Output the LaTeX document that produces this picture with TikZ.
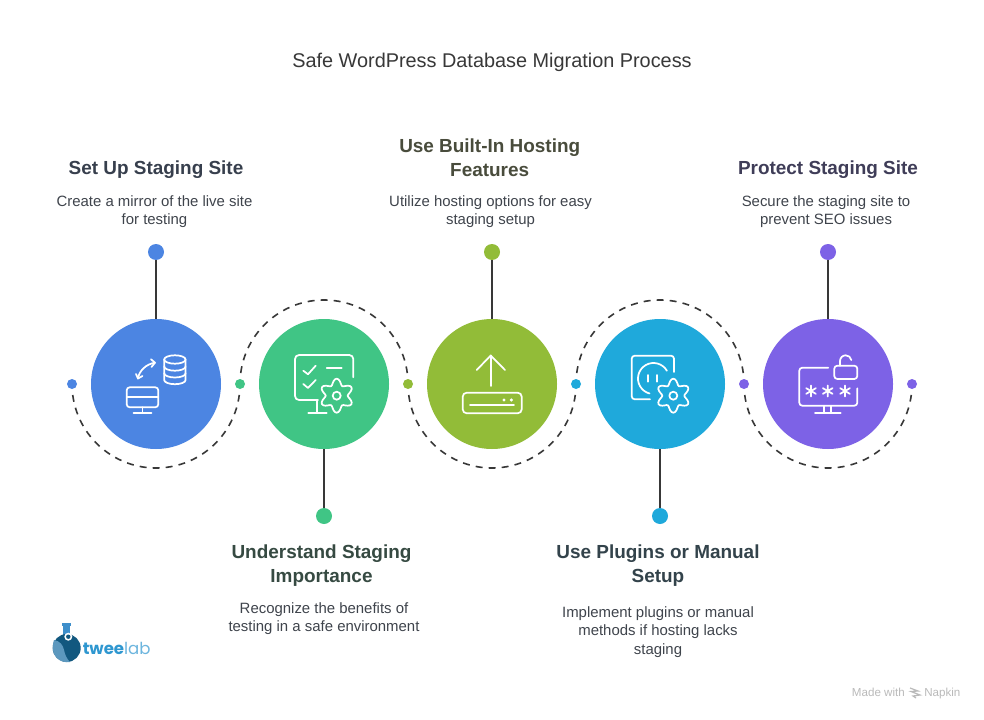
\documentclass[tikz,border=0pt]{standalone}
\usepackage{fontspec}
\setmainfont{Liberation Sans}
\newfontfamily\logofont{Poppins}
\definecolor{cblue}{HTML}{4C85E2}
\definecolor{cgreen}{HTML}{40C585}
\definecolor{colive}{HTML}{92BC38}
\definecolor{ccyan}{HTML}{1FA9DB}
\definecolor{cpurple}{HTML}{7D62E6}
\definecolor{hblue}{HTML}{373F4D}
\definecolor{hgreen}{HTML}{364A42}
\definecolor{holive}{HTML}{494C3C}
\definecolor{hcyan}{HTML}{33434B}
\definecolor{hpurple}{HTML}{3F3D58}
\definecolor{dtext}{HTML}{3F444C}
\definecolor{ldark}{HTML}{12587F}
\definecolor{lmid}{HTML}{5C98BE}
\definecolor{lneck}{HTML}{3E8FCB}
\definecolor{ltext}{HTML}{2F97D0}
\definecolor{llight}{HTML}{6CB5DE}
\tikzset{
  x=0.75pt,y=-0.75pt,
  bigdisc/.style={circle,fill=#1,draw=none,minimum size=97.5pt,inner sep=0pt},
  bigdot/.style={circle,fill=#1,draw=none,minimum size=12pt,inner sep=0pt},
  smalldot/.style={circle,fill=#1,draw=none,minimum size=7.5pt,inner sep=0pt},
  linkline/.style={draw=black!78,line width=1.5pt},
  dasharc/.style={draw=black!78,line width=1.2pt,dash pattern=on 5.2pt off 4.6pt},
  ico/.style={draw=white,line width=1.3pt,line cap=round,line join=round},
  titletext/.style={font=\fontsize{14.9pt}{18pt}\selectfont,text=black!78,align=center},
  headtext/.style={font=\bfseries\fontsize{14.2pt}{18pt}\selectfont,text=#1,align=center},
  desctext/.style={font=\fontsize{11.2pt}{13.6pt}\selectfont,text=dtext,align=center},
  marktext/.style={font=\fontsize{8.7pt}{10pt}\selectfont,text=black!27},
}
\newcommand{\gearico}[2]{%
  \draw[ico] plot[domain=0:354,samples=60,smooth cycle] ({#1+(14+3*cos(6*\x+180))*cos(\x)},{#2+(14+3*cos(6*\x+180))*sin(\x)});
  \draw[ico] (#1,#2) circle[radius=4];}
\begin{document}
\begin{tikzpicture}
\useasboundingbox (0,0) rectangle (984,720);
\fill[white] (0,0) rectangle (984,720);

\node[titletext] (title) at (492,62) {Safe WordPress Database Migration Process};

% big discs
\node[bigdisc=cblue] (c1) at (156,384) {};
\node[bigdisc=cgreen] (c2) at (324,384) {};
\node[bigdisc=colive] (c3) at (492,384) {};
\node[bigdisc=ccyan] (c4) at (660,384) {};
\node[bigdisc=cpurple] (c5) at (828,384) {};

% small dots on the axis
\node[smalldot=cblue] (d0) at (72,384) {};
\node[smalldot=cgreen] (d1) at (240,384) {};
\node[smalldot=colive] (d2) at (408,384) {};
\node[smalldot=ccyan] (d3) at (576,384) {};
\node[smalldot=cpurple] (d4) at (744,384) {};
\node[smalldot=cpurple] (d5) at (912,384) {};

% dashed arcs
\draw[dasharc] (c1) ++(172.5:84) arc[start angle=172.5,end angle=7.5,radius=84];
\draw[dasharc] (c2) ++(187.5:84) arc[start angle=187.5,end angle=352.5,radius=84];
\draw[dasharc] (c3) ++(172.5:84) arc[start angle=172.5,end angle=7.5,radius=84];
\draw[dasharc] (c4) ++(187.5:84) arc[start angle=187.5,end angle=352.5,radius=84];
\draw[dasharc] (c5) ++(172.5:84) arc[start angle=172.5,end angle=7.5,radius=84];

% end dots and stems
\node[bigdot=cblue] (t1) at (156,252) {};
\node[bigdot=cgreen] (t2) at (324,516) {};
\node[bigdot=colive] (t3) at (492,252) {};
\node[bigdot=ccyan] (t4) at (660,516) {};
\node[bigdot=cpurple] (t5) at (828,252) {};
\draw[linkline] (t1) -- (c1);
\draw[linkline] (t2) -- (c2);
\draw[linkline] (t3) -- (c3);
\draw[linkline] (t4) -- (c4);
\draw[linkline] (t5) -- (c5);

% texts
\node[headtext=hblue] (h1) at (156,170) {Set Up Staging Site};
\node[desctext] (p1) at (154.5,212) {Create a mirror of the live site\\for testing};
\node[headtext=hgreen] (h2) at (321.5,566) {Understand Staging\\Importance};
\node[desctext] (p2) at (324,619) {Recognize the benefits of\\testing in a safe environment};
\node[headtext=holive] (h3) at (489.7,158) {Use Built-In Hosting\\Features};
\node[desctext] (p3) at (490.5,212) {Utilize hosting options for easy\\staging setup};
\node[headtext=hcyan] (h4) at (658,566) {Use Plugins or Manual\\Setup};
\node[desctext] (p4) at (658,632) {Implement plugins or manual\\methods if hosting lacks\\staging};
\node[headtext=hpurple] (h5) at (828,170) {Protect Staging Site};
\node[desctext] (p5) at (826,212) {Secure the staging site to\\prevent SEO issues};

% icon 1: monitor, arrows, database
\draw[ico] (126.7,390.3) arc[start angle=180,end angle=270,radius=3] -- (155.3,387.3) arc[start angle=270,end angle=360,radius=3] -- (158.3,404.3) arc[start angle=0,end angle=90,radius=3] -- (129.7,407.3) arc[start angle=90,end angle=180,radius=3] -- cycle;
\draw[ico] (126.7,397.3) -- (158.3,397.3);
\draw[ico] (142.5,407.3) -- (142.5,412.7) (133.5,412.7) -- (151.5,412.7);
\draw[ico] (174.9,359.5) ellipse[x radius=10.7,y radius=4.2];
\draw[ico] (164.2,359.5) -- (164.2,380) arc[start angle=180,end angle=0,x radius=10.7,y radius=4.2] -- (185.6,359.5);
\draw[ico] (164.2,366.5) arc[start angle=180,end angle=0,x radius=10.7,y radius=4.2];
\draw[ico] (164.2,373.3) arc[start angle=180,end angle=0,x radius=10.7,y radius=4.2];
\draw[ico] (138,378.5) .. controls (139,371) and (146,364) .. (155,362.7);
\draw[ico] (136,374) -- (138,378.5) -- (142.5,376);
\draw[ico] (151,359.3) -- (155,362.7) -- (151.5,367);

% icon 2: monitor with checks and gear
\draw[ico] (318,400) -- (299,400) arc[start angle=90,end angle=180,radius=4] -- (295,359) arc[start angle=180,end angle=270,radius=4] -- (349.3,355) arc[start angle=270,end angle=360,radius=4] -- (353.3,377.3);
\draw[ico] (316.7,400) -- (316.7,412.7) (308.3,412.7) -- (326.7,412.7);
\draw[ico] (303.3,370.7) -- (308,374.3) -- (315.7,365.7);
\draw[ico] (303.3,384) -- (308,388) -- (315.7,380);
\draw[ico] (326.7,368.3) -- (341.7,368.3);
\gearico{336.7}{395.7}

% icon 3: upload
\draw[ico] (490.7,386) -- (490.7,355.5);
\draw[ico] (476.7,370) -- (490.7,355.5) -- (505,370);
\draw[ico] (466.7,392.7) -- (517.7,392.7) arc[start angle=270,end angle=360,radius=4] -- (521.7,409.3) arc[start angle=0,end angle=90,radius=4] -- (466.7,413.3) arc[start angle=90,end angle=180,radius=4] -- (462.7,396.7) arc[start angle=180,end angle=270,radius=4] -- cycle;
\draw[ico] (470,405.3) -- (514,405.3);
\fill[white] (504,400) circle[radius=1.7] (511.3,400) circle[radius=1.7];

% icon 4: socket with gear
\draw[ico] (650,399.3) -- (634.7,399.3) arc[start angle=90,end angle=180,radius=3] -- (631.7,358.7) arc[start angle=180,end angle=270,radius=3] -- (671,355.7) arc[start angle=270,end angle=360,radius=3] -- (674,372);
\draw[ico] (666.9,370.75) arc[start angle=-30,end angle=-255,radius=15.5];
\draw[ico] (648.3,375) -- (648.3,381.7) (657.3,375) -- (657.3,381.7);
\gearico{673.3}{395.7}

% icon 5: monitor with lock and stars
\draw[ico] (828.3,367.7) -- (802.3,367.7) arc[start angle=270,end angle=180,radius=3] -- (799.3,402.7) arc[start angle=180,end angle=90,radius=3] -- (854.3,405.7) arc[start angle=90,end angle=0,radius=3] -- (857.3,388.3);
\draw[ico] (824.3,405.7) -- (824.3,412.7) (830.7,405.7) -- (830.7,412.7) (815,412.7) -- (840.7,412.7);
\draw[ico] (837.3,365.7) -- (854.3,365.7) arc[start angle=270,end angle=360,radius=3] -- (857.3,376) arc[start angle=0,end angle=90,radius=3] -- (837.3,379) arc[start angle=90,end angle=180,radius=3] -- (834.3,368.7) arc[start angle=180,end angle=270,radius=3] -- cycle;
\draw[ico] (840,365.7) -- (840,361) arc[start angle=180,end angle=350,x radius=5.7,y radius=5.7];
\foreach \sx in {811,827.7,845}{
  \draw[ico] (\sx,385.5) -- (\sx,396.5) (\sx-4.8,388.2) -- (\sx+4.8,393.8) (\sx-4.8,393.8) -- (\sx+4.8,388.2);
}

% logo
\fill[lneck] (63,625) rectangle (70,637);
\fill[lneck] (61.5,623) rectangle (71,625.5);
\fill[ldark] (66.7,648) circle[radius=14];
\fill[lmid] (54,640) .. controls (60,641) and (63,645) .. (64,650) .. controls (65,655) and (67,659) .. (70,662) .. controls (60,663.5) and (49,656) .. (54,640) -- cycle;
\fill[white] (68.3,636.7) circle[radius=4];
\fill[ldark] (68.3,636.7) circle[radius=2.2];
\node[anchor=west,inner sep=0pt,font=\logofont\fontsize{12.4pt}{14pt}\selectfont] (logo) at (82.5,648) {\textcolor{ltext}{\fontseries{sb}\selectfont twee}\textcolor{llight}{\fontseries{l}\selectfont lab}};

% watermark
\node[marktext,anchor=base west,inner sep=0pt] (mw) at (851.7,696) {Made with};
\node[marktext,anchor=base west,inner sep=0pt] (mn) at (924,696) {Napkin};
\draw[black!27,line width=0.9pt] (910,688) -- (918,691) -- (911,691.5) -- (920,695) -- (913,696) -- (916,698);
\end{tikzpicture}
\end{document}
